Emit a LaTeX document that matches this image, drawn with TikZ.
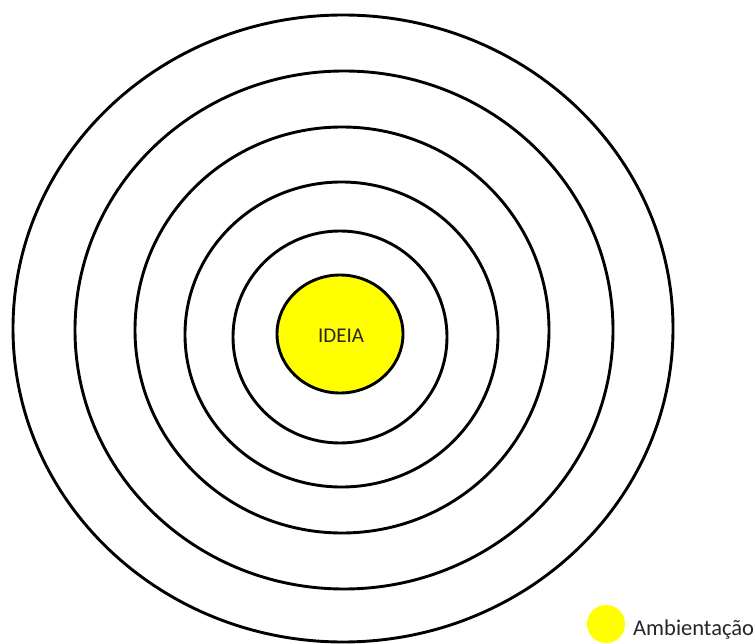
\documentclass[tikz,border=0pt]{standalone}
\usepackage{fontspec}
\setmainfont{Carlito}
\definecolor{ideayellow}{HTML}{FFFF00}
\begin{document}
\begin{tikzpicture}[x=1pt,y=-1pt,
  ring/.style={draw=black,line width=2.9pt},
  lbl/.style={font=\fontsize{21}{24}\selectfont,text=black!85,inner sep=0pt}]
\useasboundingbox (0,0) rectangle (755,644);
\fill[white] (0,0) rectangle (755,644);
\draw[ring] (343,328.5) ellipse [x radius=330,y radius=313.5];
\draw[ring] (344,330) ellipse [x radius=269,y radius=259];
\draw[ring] (342,330) ellipse [x radius=207,y radius=203];
\draw[ring] (341.5,334.5) ellipse [x radius=156.5,y radius=152.5];
\draw[ring] (340,337) ellipse [x radius=107,y radius=106];
\draw[ring,fill=ideayellow] (340,334) ellipse [x radius=63,y radius=59];
\node[lbl] (ideia) at (341,336) {IDEIA};
\node[circle,fill=ideayellow,minimum size=38pt,inner sep=0pt] (leg) at (606,624) {};
\node[lbl,font=\fontsize{22.5}{26}\selectfont,anchor=base west] (legtext) at (633,635) {Ambientação};
\end{tikzpicture}
\end{document}
